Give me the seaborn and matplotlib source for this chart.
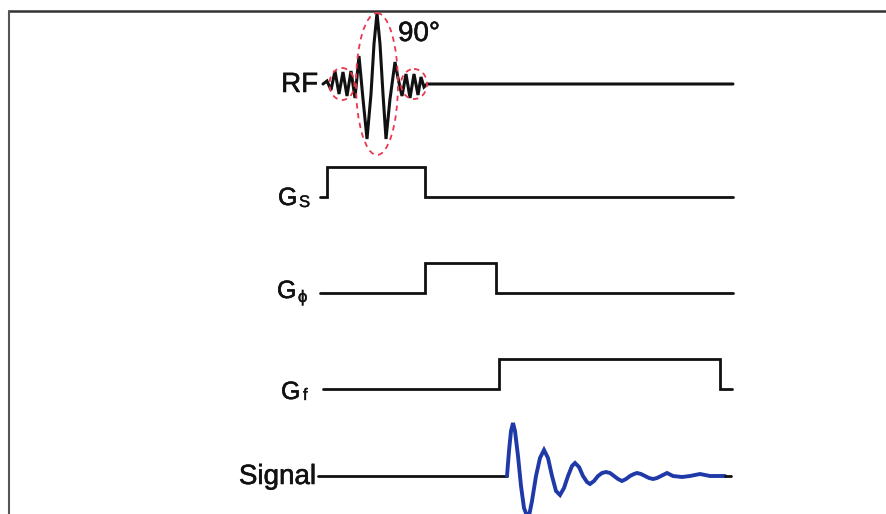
import numpy as np
import pandas as pd
import matplotlib
matplotlib.use("Agg")
import matplotlib.pyplot as plt
from matplotlib.patches import Ellipse
import matplotlib.patheffects as pe
import seaborn as sns

# ---------------- data (time in sequence units, amplitudes relative to baseline) -------------
rf_time = [323, 327, 331, 335, 339, 343, 347, 351, 355, 359, 363, 367, 371, 374,
           377, 380, 383, 386, 390, 395, 398, 402, 406, 410, 414, 418, 421, 424, 427, 733]
rf_amp = [0, 3, -6, 13, -10, 12, -12, 13, -14, 28, -15, -55, -10, 40,
          71, 40, -10, -55, -15, 22, 6, -12, 10, -14, 10, -11, 7, -3, 0, 0]

gs_time = [320, 327, 327, 425, 425, 733]
gs_level = [0, 0, 1, 1, 0, 0]
gp_time = [320, 425, 425, 496, 496, 733]
gp_level = [0, 0, 1, 1, 0, 0]
gf_time = [323, 499, 499, 720, 720, 732]
gf_level = [0, 0, 1, 1, 0, 0]

sig_flat_time = [318, 507]
sig_time = [507, 509, 511, 513, 515, 518, 521, 524, 527, 529, 532, 536, 540, 544, 548,
            552, 556, 560, 564, 568, 572, 575, 579, 583, 587, 590, 594, 598, 602, 606,
            610, 614, 618, 622, 626, 630, 634, 637, 641, 645, 649, 653, 657, 661, 667,
            673, 682, 690, 700, 710, 725]
sig_amp = [0, 25, 45, 53, 45, 20, -10, -32, -40, -40, -25, 0, 18, 26, 18,
           0, -15, -19, -12, 0, 10, 13, 9, 0, -6, -8, -5, 0, 3, 4,
           3, 0, -3, -5, -3, 0, 2, 3, 2, 0, -2, -3, -2, 0, 3,
           0, -1, 0, 2, 0, 0]
sig_tail_time = [725, 731]

# envelope lobes of RF pulse: (centre time, width in time, full height)
env_center = [342, 377, 414]
env_width = [25, 42, 26]
env_height = [32, 142, 30]

# ---------------- layout ----------------
base = {"RF": 84, "Gs": 197, "Gp": 293, "Gf": 389, "Signal": 476}
grad_h = 30

sns.set_theme(style="white")
plt.rcParams["font.family"] = ["Liberation Sans", "DejaVu Sans"]

fig = plt.figure(figsize=(8.86, 5.14), dpi=100)
ax = fig.add_axes([0, 0, 1, 1])
ax.set_xlim(0, 886)
ax.set_ylim(514, 0)
ax.axis("off")

lw = 2.0
black = "#111111"

def draw(t, y, color=black, width=lw):
    df = pd.DataFrame({"t": t, "y": y})
    sns.lineplot(data=df, x="t", y="y", sort=False, estimator=None, ax=ax,
                 color=color, linewidth=width, solid_joinstyle="miter")

draw(rf_time, base["RF"] - np.array(rf_amp), width=2.2)
draw(gs_time, base["Gs"] - grad_h * np.array(gs_level))
draw(gp_time, base["Gp"] - grad_h * np.array(gp_level))
draw(gf_time, base["Gf"] - grad_h * np.array(gf_level))
draw(sig_flat_time, [base["Signal"]] * 2)
draw(sig_time, base["Signal"] - np.array(sig_amp), color="#1f3aa8", width=2.8)
draw(sig_tail_time, [base["Signal"]] * 2)

for c, w, h in zip(env_center, env_width, env_height):
    ax.add_patch(Ellipse((c, base["RF"]), w, h, fill=False, edgecolor="#e8394f",
                         linestyle=(0, (3, 2.5)), linewidth=1.3, zorder=5))

# frame
ax.plot([9, 886], [11, 11], color="#333333", lw=1.8)
ax.plot([9, 9], [11, 514], color="#555555", lw=1.5)

stroke = [pe.withStroke(linewidth=0.4, foreground=black)]
fs = 20
ax.text(318, base["RF"] + 1, "RF", ha="right", va="center", fontsize=fs, color=black,
        path_effects=stroke)
ax.text(398, 34, "90°", ha="left", va="center", fontsize=fs, color=black, path_effects=stroke)
ax.text(316, base["Signal"] + 1, "Signal", ha="right", va="center", fontsize=fs, color=black,
        path_effects=stroke)

for key, sub, gx, sx, gb, sb in [("Gs", "S", 278, 299, 8, 10),
                                 ("Gp", "ϕ", 277, 298, 5, 9),
                                 ("Gf", "f", 281, 303, 10, 11)]:
    y = base[key]
    ax.text(gx, y + gb, "G", ha="left", va="baseline", fontsize=18, color=black,
            path_effects=stroke)
    ax.text(sx, y + sb, sub, ha="left", va="baseline", fontsize=12, color=black,
            path_effects=[pe.withStroke(linewidth=0.3, foreground=black)])

fig.savefig("out.png", dpi=100)
